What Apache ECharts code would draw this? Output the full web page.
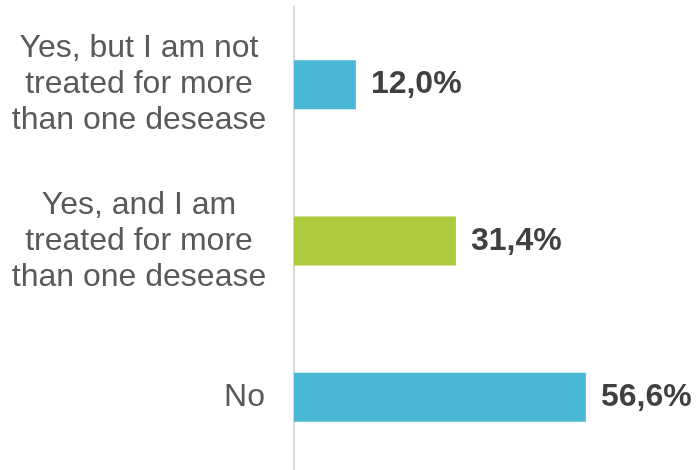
<!DOCTYPE html>
<html>
<head>
<meta charset="utf-8">
<script src="https://cdn.jsdelivr.net/npm/echarts@6/dist/echarts.min.js"></script>
<style>
  html, body { margin: 0; padding: 0; background: #ffffff; }
  #chart { width: 697px; height: 470px; }
</style>
</head>
<body>
<div id="chart"></div>
<script>
const categories = [
  'Yes, but I am not\ntreated for more\nthan one desease',
  'Yes, and I am\ntreated for more\nthan one desease',
  'No'
];
const values = [12.0, 31.4, 56.6];
const barColors = ['#4ab8d4', '#acca3c', '#4ab8d4'];

const chart = echarts.init(document.getElementById('chart'), null, { renderer: 'canvas' });

const option = {
  backgroundColor: '#ffffff',
  animation: false,
  grid: { left: 294, width: 361, top: 6.5, height: 469, containLabel: false, outerBoundsMode: 'none' },
  xAxis: {
    type: 'value',
    min: 0,
    max: 70,
    show: false
  },
  yAxis: {
    type: 'category',
    inverse: true,
    data: categories,
    axisLine: { show: true, lineStyle: { color: '#d9d9d9', width: 2 } },
    axisTick: { show: false },
    splitLine: { show: false },
    axisLabel: {
      margin: 29,
      align: 'right',
      fontFamily: 'Liberation Sans, Arial, sans-serif',
      fontSize: 32,
      lineHeight: 36,
      color: '#595959',
      formatter: function (v) {
        if (v.indexOf('\n') < 0) return v;
        return v.split('\n').map(function (l) { return '{c|' + l + '}'; }).join('\n');
      },
      rich: {
        c: {
          width: 252,
          align: 'center',
          fontFamily: 'Liberation Sans, Arial, sans-serif',
          fontSize: 32,
          lineHeight: 36,
          color: '#595959'
        }
      }
    }
  },
  series: [{
    type: 'bar',
    barWidth: 49,
    data: values.map(function (v, i) {
      return { value: v, itemStyle: { color: barColors[i] } };
    }),
    label: {
      show: true,
      position: 'right',
      distance: 15,
      fontFamily: 'Liberation Sans, Arial, sans-serif',
      fontSize: 32,
      fontWeight: 'bold',
      color: '#404040',
      formatter: function (p) { return p.value.toFixed(1).replace('.', ',') + '%'; }
    }
  }]
};

chart.setOption(option);
</script>
</body>
</html>
